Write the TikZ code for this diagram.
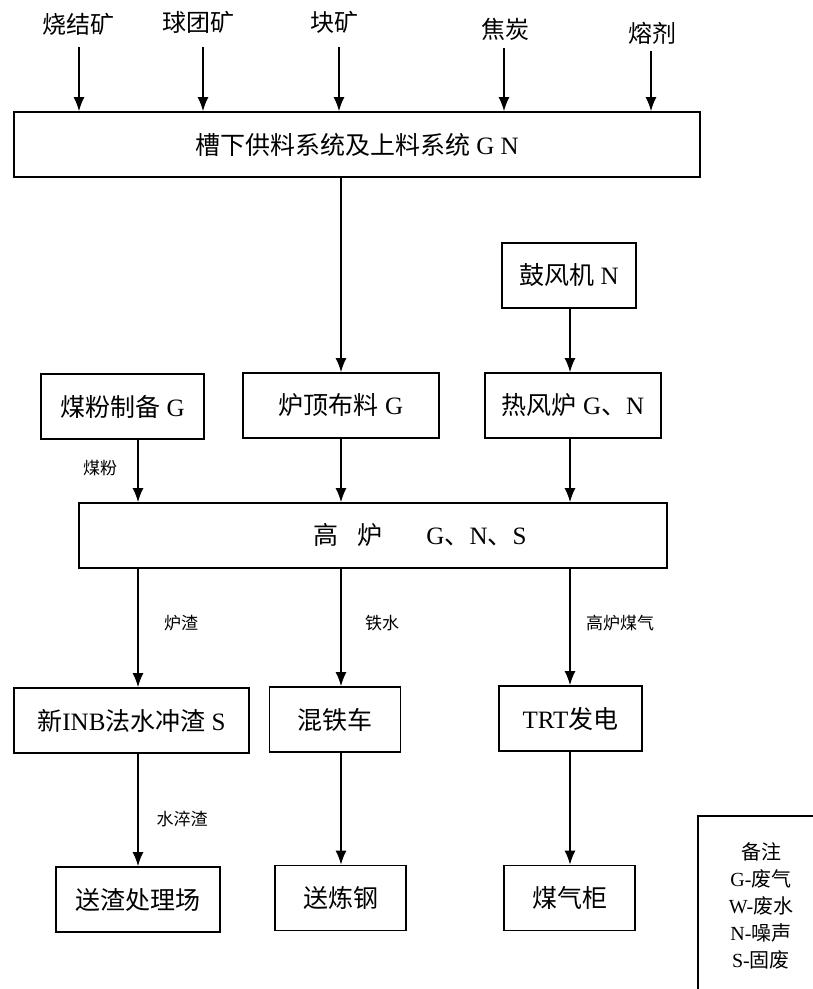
\documentclass[tikz,border=0pt]{standalone}
\usepackage{fontspec}
\setmainfont{Liberation Serif}
\newfontfamily\zh{Noto Sans CJK SC}
\usetikzlibrary{arrows.meta,positioning}

\tikzset{
  proc/.style={draw, line width=1.8pt, inner sep=0pt, minimum height=65pt,
    font=\fontsize{25}{30}\selectfont},
  flow/.style={-{Latex[length=14pt,width=11pt]}, line width=1.3pt},
  feedname/.style={font=\zh\fontsize{24}{28}\selectfont},
  flowname/.style={font=\zh\fontsize{17}{20}\selectfont},
}

\begin{document}
\begin{tikzpicture}[x=1pt,y=-1pt]
    \useasboundingbox (0,0) rectangle (813,989);

    % three vertical lines of the flow
        \coordinate (colA) at (138,0);
        \coordinate (colB) at (341,0);
        \coordinate (colC) at (570,0);

    % raw materials
        \node[feedname] (sinter) at (78,24) {烧结矿};
        \node[feedname] (pellet) at (198,22) {球团矿};
        \node[feedname] (lump) at (334,22) {块矿};
        \node[feedname] (coke) at (505,29) {焦炭};
        \node[feedname] (flux) at (652,33) {熔剂};
        \coordinate (sinterout) at (79,47);
        \coordinate (pelletout) at (203,47);
        \coordinate (lumpout) at (339,47);
        \coordinate (cokeout) at (504,48);
        \coordinate (fluxout) at (651,51);

    % boxes
        \node[proc, minimum width=686pt] (feed) at (357,144.5) {{\zh 槽下供料系统及上料系统} G N};
        \node[proc, minimum width=134pt] (blower) at (569,275.5) {{\zh 鼓风机} N};
        \node[proc, minimum width=163pt] (coal) at (122.5,406.5) {{\zh 煤粉制备} G};
        \node[proc, minimum width=196pt] (charge) at (341,405.5) {{\zh 炉顶布料} G};
        \node[proc, minimum width=176pt] (stove) at (573,405.5) {{\zh 热风炉} G{\zh 、}N};
        \node[proc, minimum width=588pt] (bf) at (373,535.5)
            {\hspace*{94pt}{\zh 高\hspace{19pt}炉}\hspace{44pt}G{\zh 、}N{\zh 、}S};
        \node[proc, minimum width=235pt] (slag) at (131.5,720.5) {{\zh 新}INB{\zh 法水冲渣} S};
        \node[proc, minimum width=131pt] (ladle) at (335,719.5) {\zh 混铁车};
        \node[proc, minimum width=143pt] (trt) at (570.5,718.5) {TRT{\zh 发电}};
        \node[proc, minimum width=164pt] (yard) at (138,899.5) {\zh 送渣处理场};
        \node[proc, minimum width=131pt] (steel) at (340.5,898) {\zh 送炼钢};
        \node[proc, minimum width=131pt] (holder) at (569.5,898) {\zh 煤气柜};

    % feeding arrows
        \foreach \m in {sinter,pellet,lump,coke,flux}
            \draw[flow] (\m out) -- (\m out |- feed.north);

    % main flow
        \draw[flow] (feed.south -| colB) -- (charge.north -| colB);
        \draw[flow] (blower.south -| colC) -- (stove.north -| colC);
        \draw[flow] (coal.south -| colA) -- (bf.north -| colA);
        \draw[flow] (charge.south -| colB) -- (bf.north -| colB);
        \draw[flow] (stove.south -| colC) -- (bf.north -| colC);
        \draw[flow] (bf.south -| colA) -- (slag.north -| colA);
        \draw[flow] (bf.south -| colB) -- (ladle.north -| colB);
        \draw[flow] (bf.south -| colC) -- (trt.north -| colC);
        \draw[flow] (slag.south -| colA) -- (yard.north -| colA);
        \draw[flow] (ladle.south -| colB) -- (steel.north -| colB);
        \draw[flow] (trt.south -| colC) -- (holder.north -| colC);

    % flow labels
        \node[flowname] (lcoal) at (100,468) {煤粉};
        \node[flowname] (lslag) at (181,623) {炉渣};
        \node[flowname] (liron) at (382,623) {铁水};
        \node[flowname] (lgas) at (620,623) {高炉煤气};
        \node[flowname] (lwater) at (182,819) {水淬渣};

    % legend
        \coordinate (legbl) at (698,995);
        \coordinate (legtr) at (820,816);
        \draw[line width=1.8pt] (legbl) |- (legtr);
        \node[font=\fontsize{20}{27}\selectfont, align=center] (note) at (761,906)
            {{\zh 备注}\\G-{\zh 废气}\\W-{\zh 废水}\\N-{\zh 噪声}\\S-{\zh 固废}};
\end{tikzpicture}
\end{document}
